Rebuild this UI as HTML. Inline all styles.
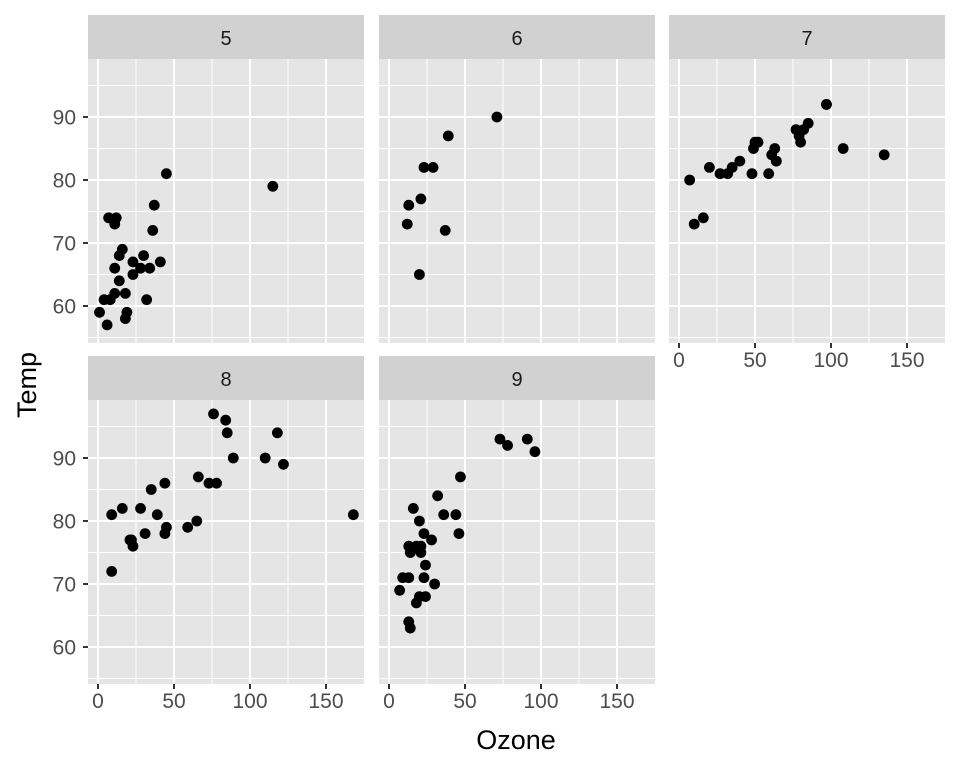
<!DOCTYPE html>
<html><head><meta charset="utf-8"><style>
html,body{margin:0;padding:0;background:#fff;}
svg{display:block;font-family:"Liberation Sans",sans-serif;}
</style></head><body>
<svg id="s" width="960" height="768" xmlns="http://www.w3.org/2000/svg"></svg>
<script>
const s=document.getElementById('s');
let h='';
const data={
5:[[41,36,12,18,null,28,23,19,8,null,7,16,11,14,18,14,34,6,30,11,1,11,4,32,null,null,null,23,45,115,37],[67,72,74,62,56,66,65,59,61,69,74,69,66,68,58,64,66,57,68,62,59,73,61,61,57,58,57,67,81,79,76]],
6:[[29,71,39,23,21,37,20,12,13],[82,90,87,82,77,72,65,73,76]],
7:[[135,49,32,null,64,40,77,97,97,85,null,10,27,null,7,48,35,61,79,63,16,null,null,80,108,20,52,82,50,64,59],[84,85,81,84,83,83,88,92,92,89,82,73,81,91,80,81,82,84,87,85,74,81,82,86,85,82,86,88,86,83,81]],
8:[[39,9,16,78,35,66,122,89,110,null,null,44,28,65,null,22,59,23,31,44,21,9,null,45,168,73,null,76,118,84,85],[81,81,82,86,85,87,89,90,90,92,86,86,82,80,79,77,79,76,78,78,77,72,75,79,81,86,88,97,94,96,94]],
9:[[96,78,73,91,47,32,20,23,21,24,44,21,28,9,13,46,18,13,24,16,13,23,36,7,14,30,null,14,18,20],[91,92,93,93,87,84,80,78,75,73,81,76,77,71,71,78,67,76,68,82,64,71,81,69,63,70,77,75,76,68]]};
const pw=276,ph=284;
const pos={5:[88,0,0],6:[379,0,0],7:[669,0,1],8:[88,341,1],9:[379,341,1]};
for(const m in pos){
 const [x0,dy,xl]=pos[m];
 const top=59+dy;
 h+=`<rect x="${x0}" y="${top-44}" width="${pw}" height="44" fill="#d1d1d1"/>`;
 h+=`<text x="${x0+pw/2}" y="${top-14}" font-size="20" fill="#1a1a1a" text-anchor="middle">${m}</text>`;
 h+=`<rect x="${x0}" y="${top}" width="${pw}" height="${ph}" fill="#e5e5e5"/>`;
 const X=v=>x0+10+v*1.52, Y=v=>top+58-(v-90)*6.3;
 for(const v of [25,75,125,175]){const x=X(v);if(x<x0+pw)h+=`<line x1="${x}" x2="${x}" y1="${top}" y2="${top+ph}" stroke="#fff" stroke-width="1"/>`;}
 for(const v of [55,65,75,85,95])h+=`<line x1="${x0}" x2="${x0+pw}" y1="${Y(v)}" y2="${Y(v)}" stroke="#fff" stroke-width="1"/>`;
 for(const v of [0,50,100,150])h+=`<line x1="${X(v)}" x2="${X(v)}" y1="${top}" y2="${top+ph}" stroke="#fff" stroke-width="2"/>`;
 for(const v of [60,70,80,90])h+=`<line x1="${x0}" x2="${x0+pw}" y1="${Y(v)}" y2="${Y(v)}" stroke="#fff" stroke-width="2"/>`;
 if(x0==88){for(const v of [60,70,80,90]){h+=`<line x1="83" x2="88" y1="${Y(v)}" y2="${Y(v)}" stroke="#333" stroke-width="2"/>`;h+=`<text x="76" y="${Y(v)+7.5}" font-size="21" fill="#4d4d4d" text-anchor="end">${v}</text>`;}}
 if(xl){for(const v of [0,50,100,150]){h+=`<line x1="${X(v)}" x2="${X(v)}" y1="${top+ph}" y2="${top+ph+5}" stroke="#333" stroke-width="2"/>`;h+=`<text x="${X(v)}" y="${top+ph+24}" font-size="21" fill="#4d4d4d" text-anchor="middle">${v}</text>`;}}
 const [oz,t]=data[m];
 for(let i=0;i<oz.length;i++)if(oz[i]!=null)h+=`<circle cx="${X(oz[i])}" cy="${Y(t[i])}" r="5.4" fill="#000"/>`;
}
h+=`<text x="516" y="749" font-size="27" fill="#000" text-anchor="middle">Ozone</text>`;
h+=`<text transform="translate(36,385) rotate(-90)" font-size="27" fill="#000" text-anchor="middle">Temp</text>`;
s.innerHTML=h;
</script>
</body></html>
